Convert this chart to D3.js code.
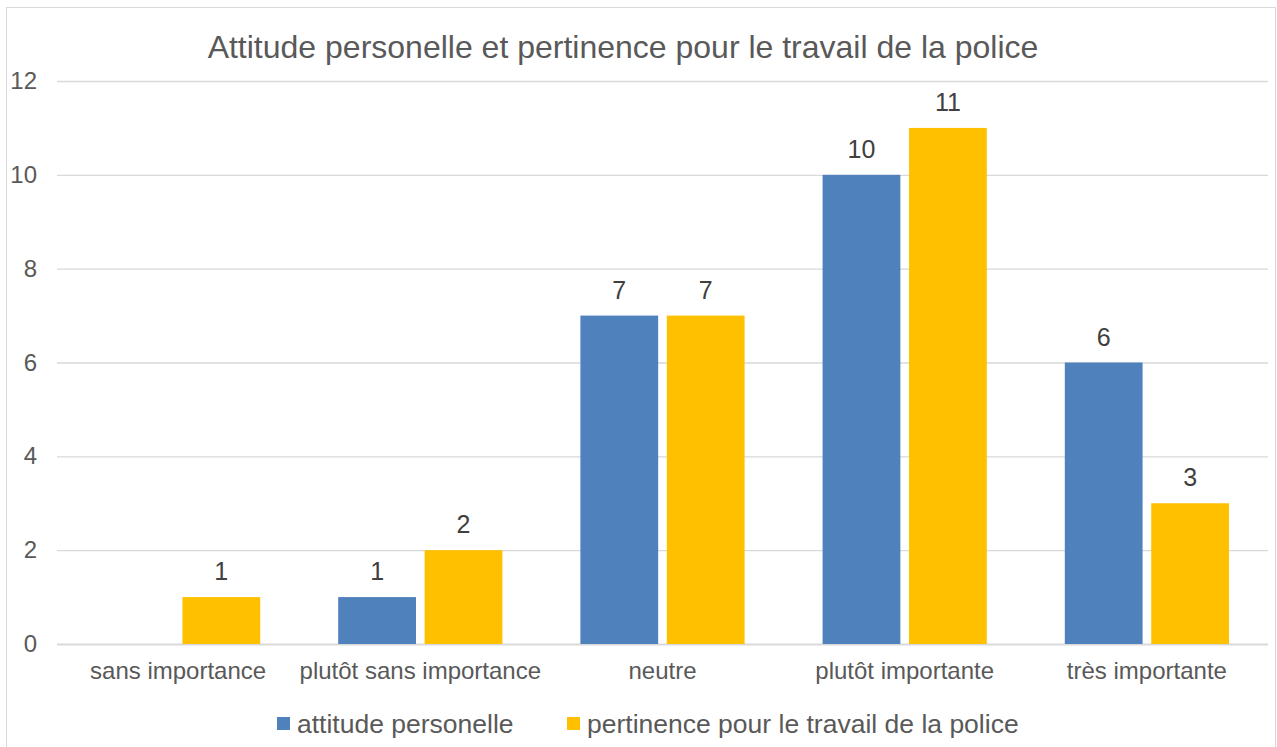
<!DOCTYPE html>
<html>
<head>
<meta charset="utf-8">
<script src="https://cdn.jsdelivr.net/npm/d3@7"></script>
<style>
  body { margin: 0; background: #fff; }
  svg { display: block; font-family: "Liberation Sans", Arial, sans-serif; }
</style>
</head>
<body>
<div id="chart"></div>
<script>
const categories = ["sans importance", "plutôt sans importance", "neutre", "plutôt importante", "très importante"];
const seriesNames = ["attitude personelle", "pertinence pour le travail de la police"];
const attitude = [0, 1, 7, 10, 6];
const pertinence = [1, 2, 7, 11, 3];
const yTicks = [0, 2, 4, 6, 8, 10, 12];
const colors = ["#4F81BD", "#FFC000"];

const W = 1277, H = 747;
const margin = { top: 81, right: 9, bottom: 103, left: 57 };
const textColor = "#595959";

const svg = d3.select('#chart').append('svg')
	.attr('width', W)
	.attr('height', H);

// chart frame
svg.append('rect')
	.attr('x', 6.5).attr('y', 7.5)
	.attr('width', 1269).attr('height', 745)
	.attr('fill', '#fff')
	.attr('stroke', '#d9d9d9');

svg.append('text')
	.attr('x', 623).attr('y', 58)
	.attr('text-anchor', 'middle')
	.attr('font-size', 32)
	.attr('fill', textColor)
	.text("Attitude personelle et pertinence pour le travail de la police");

const x0 = d3.scaleBand()
	.domain(categories)
	.range([margin.left, W - margin.right])
	.paddingInner(0.322)
	.paddingOuter(0.161);

const x1 = d3.scaleBand()
	.domain([0, 1])
	.range([0, x0.bandwidth()])
	.paddingInner(0.1);

const y = d3.scaleLinear()
	.domain([0, 12])
	.range([H - margin.bottom, margin.top]);

// grid
svg.append('g').selectAll('line')
	.data(yTicks)
	.join('line')
	.attr('x1', margin.left).attr('x2', W - margin.right)
	.attr('y1', d => y(d) + 0.5).attr('y2', d => y(d) + 0.5)
	.attr('stroke', '#d9d9d9')
	.attr('stroke-width', d => d === 0 ? 2 : 1.3);

// y axis labels
svg.append('g').selectAll('text')
	.data(yTicks)
	.join('text')
	.attr('x', 37)
	.attr('y', d => y(d) + 8)
	.attr('text-anchor', 'end')
	.attr('font-size', 24)
	.attr('fill', textColor)
	.text(d => d);

// x axis labels
svg.append('g').selectAll('text')
	.data(categories)
	.join('text')
	.attr('x', d => x0(d) + x0.bandwidth() / 2)
	.attr('y', 679)
	.attr('text-anchor', 'middle')
	.attr('font-size', 24)
	.attr('fill', textColor)
	.text(d => d);

const rows = categories.map((c, i) => ({ cat: c, vals: [attitude[i], pertinence[i]] }));

const groups = svg.append('g').selectAll('g')
	.data(rows)
	.join('g')
	.attr('transform', d => `translate(${x0(d.cat)},0)`);

groups.selectAll('rect')
	.data(d => d.vals.map((v, k) => ({ v, k })).filter(e => e.v > 0))
	.join('rect')
	.attr('x', d => x1(d.k))
	.attr('y', d => y(d.v))
	.attr('width', x1.bandwidth())
	.attr('height', d => y(0) - y(d.v))
	.attr('fill', d => colors[d.k]);

groups.selectAll('text')
	.data(d => d.vals.map((v, k) => ({ v, k })).filter(e => e.v > 0))
	.join('text')
	.attr('x', d => x1(d.k) + x1.bandwidth() / 2)
	.attr('y', d => y(d.v) - 17)
	.attr('text-anchor', 'middle')
	.attr('font-size', 25)
	.attr('fill', '#404040')
	.text(d => d.v);

// legend
const legendX = [277, 567];
const legend = svg.append('g').selectAll('g')
	.data(seriesNames)
	.join('g')
	.attr('transform', (d, i) => `translate(${legendX[i]},717)`);
legend.append('rect')
	.attr('width', 13).attr('height', 13)
	.attr('fill', (d, i) => colors[i]);
legend.append('text')
	.attr('x', 20).attr('y', 16)
	.attr('font-size', 26.5)
	.attr('fill', textColor)
	.text(d => d);
</script>
</body>
</html>
